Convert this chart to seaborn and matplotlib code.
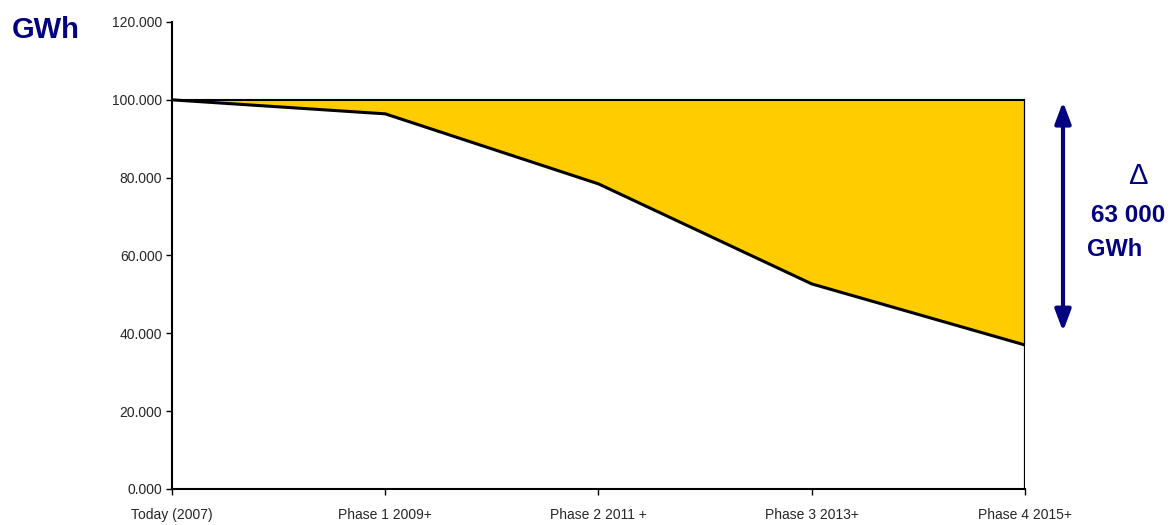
"""
Electricity consumption path vs. flat baseline (GWh), with the saved gap shaded.
"""

import numpy as np
import pandas as pd
import matplotlib
matplotlib.use("Agg")
import matplotlib.pyplot as plt
import matplotlib.transforms as mtransforms
import seaborn as sns

# Data
phases      = ["Today (2007)", "Phase 1 2009+", "Phase 2 2011 +", "Phase 3 2013+", "Phase 4 2015+"]
consumption = [100000, 96400, 78400, 52700, 37000]
baseline    = 100000
y_ticks     = [0, 20000, 40000, 60000, 80000, 100000, 120000]

NAVY = "#000080"
GOLD = "#FFCC00"

sns.set_style("white")
plt.rcParams["font.family"] = ["Liberation Sans", "DejaVu Sans"]

df = pd.DataFrame({"pos": np.arange(len(phases)), "phase": phases, "gwh": consumption})

fig = plt.figure(figsize=(11.76, 5.25), dpi=100)
ax = fig.add_axes([172 / 1176, 1 - 489 / 525, (1025 - 172) / 1176, (489 - 22) / 525])

# Shaded savings area between baseline and consumption path
ax.fill_between(df["pos"], df["gwh"], baseline, color=GOLD, linewidth=0)
ax.plot([0, len(phases) - 1], [baseline, baseline], color="black", lw=1.5)
ax.plot([len(phases) - 1, len(phases) - 1], [0, baseline], color="black", lw=1.6)
sns.lineplot(data=df, x="pos", y="gwh", color="black", lw=2.2, ax=ax)

ax.set_xlim(0, len(phases) - 1)
ax.set_ylim(0, 120000)
ax.set_xticks(df["pos"])
ax.set_xticklabels(phases, fontsize=10)
ax.set_yticks(y_ticks)
ax.set_yticklabels([f"{v / 1000:.3f}" for v in y_ticks], fontsize=10)
ax.set_xlabel("")
ax.set_ylabel("")

for side in ["top", "right"]:
    ax.spines[side].set_visible(False)
for side in ["left", "bottom"]:
    ax.spines[side].set_color("black")
    ax.spines[side].set_linewidth(1.5)
ax.tick_params(axis="both", which="major", direction="out", length=4, width=1.0,
               color="black", left=True, bottom=True)
ax.tick_params(axis="x", pad=10)
ax.tick_params(axis="y", pad=3)

# Unit label, top left
fig.text(12 / 1176, 1 - 30 / 525, "GWh", color=NAVY, fontsize=21, fontweight="bold",
         ha="left", va="center")

# Double-headed arrow showing the gap
trans = mtransforms.blended_transform_factory(ax.transAxes, ax.transData)
x_arrow = (1063 - 172) / (1025 - 172)
ax.annotate("", xy=(x_arrow, 99500), xytext=(x_arrow, 40500),
            xycoords=trans, textcoords=trans, annotation_clip=False,
            arrowprops=dict(arrowstyle="<|-|>,head_length=0.8,head_width=0.3", color=NAVY,
                            lw=3, mutation_scale=16, shrinkA=0, shrinkB=0))

fig.text(1138 / 1176, 1 - 176 / 525, "Δ", color=NAVY, fontsize=21,
         ha="center", va="center")
fig.text(1128 / 1176, 1 - 216 / 525, "63 000", color=NAVY, fontsize=17.5, fontweight="bold",
         ha="center", va="center")
fig.text(1115 / 1176, 1 - 249 / 525, "GWh", color=NAVY, fontsize=17, fontweight="bold",
         ha="center", va="center")

fig.savefig("out.png", dpi=100)
